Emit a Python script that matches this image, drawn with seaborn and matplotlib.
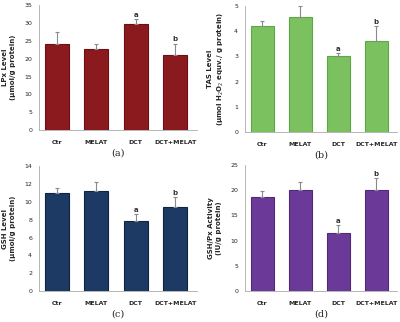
import matplotlib
matplotlib.use("Agg")
import matplotlib.pyplot as plt
import seaborn as sns
import pandas as pd

sns.set_style("white")
plt.rcParams['font.family'] = ['DejaVu Sans']

categories = ["Ctr", "MELAT", "DCT", "DCT+MELAT"]

lpx_values = [24.0, 22.6, 29.7, 21.0]
lpx_errors = [3.4, 1.4, 1.3, 3.2]
lpx_marks = ["", "", "a", "b"]

tas_values = [4.2, 4.58, 3.0, 3.62]
tas_errors = [0.22, 0.42, 0.12, 0.58]
tas_marks = ["", "", "a", "b"]

gsh_values = [11.0, 11.25, 7.9, 9.4]
gsh_errors = [0.6, 0.95, 0.7, 1.1]
gsh_marks = ["", "", "a", "b"]

gpx_values = [18.6, 20.0, 11.6, 20.0]
gpx_errors = [1.3, 1.6, 1.4, 2.3]
gpx_marks = ["", "", "a", "b"]

panels = [
    dict(vals=lpx_values, errs=lpx_errors, marks=lpx_marks, ymax=35, step=5,
         color="#8B1A1E", edge="#6A1014", ylabel="LPx Level\n(μmol/g protein)",
         tag="(a)", rect=[0.0975, 0.596, 0.395, 0.388]),
    dict(vals=tas_values, errs=tas_errors, marks=tas_marks, ymax=5, step=1,
         color="#7CC160", edge="#5EA844",
         ylabel="TAS Level\n(μmol H$_2$O$_2$ equv./ g protein)",
         tag="(b)", rect=[0.6125, 0.59, 0.38, 0.391]),
    dict(vals=gsh_values, errs=gsh_errors, marks=gsh_marks, ymax=14, step=2,
         color="#1C3A63", edge="#10243F", ylabel="GSH Level\n(μmol/g protein)",
         tag="(c)", rect=[0.0975, 0.096, 0.395, 0.388]),
    dict(vals=gpx_values, errs=gpx_errors, marks=gpx_marks, ymax=25, step=5,
         color="#6B3A99", edge="#52287A", ylabel="GSH/Px Activity\n(IU/g protein)",
         tag="(d)", rect=[0.6125, 0.096, 0.38, 0.392]),
]

fig = plt.figure(figsize=(4.0, 3.22), dpi=100)

for p in panels:
    ax = fig.add_axes(p["rect"])
    df = pd.DataFrame({"group": categories, "value": p["vals"]})
    sns.barplot(data=df, x="group", y="value", color=p["color"], ax=ax,
                width=0.6, edgecolor=p["edge"], linewidth=0.8, saturation=1)
    xs = list(range(len(categories)))
    ax.errorbar(xs, p["vals"], yerr=[[0] * 4, p["errs"]], fmt="none",
                ecolor="#8a8a8a", elinewidth=0.8, capsize=1.2, capthick=0.8)
    for x, v, e, m in zip(xs, p["vals"], p["errs"], p["marks"]):
        if m:
            ax.text(x, v + e + p["ymax"] * 0.012, m, ha="center", va="bottom",
                    fontsize=5, fontweight="bold", color="#333333")
    ax.set_ylim(0, p["ymax"])
    ax.set_xlim(-0.45, 3.55)
    ax.set_yticks([i * p["step"] for i in range(int(p["ymax"] / p["step"]) + 1)])
    ax.set_xticks([0.5, 1.5, 2.5], minor=True)
    ax.set_xlabel("")
    ax.set_ylabel(p["ylabel"], fontsize=5, fontweight="bold", labelpad=6,
                  linespacing=1.4)
    ax.tick_params(axis="y", labelsize=4.5, length=2, width=0.5,
                   color="#999999", pad=3)
    ax.tick_params(axis="x", which="major", labelsize=4.5, length=0, pad=7)
    ax.tick_params(axis="x", which="minor", length=2, width=0.5,
                   color="#999999", direction="out")
    for lab in ax.get_xticklabels():
        lab.set_fontweight("bold")
    for s in ["top", "right"]:
        ax.spines[s].set_visible(False)
    for s in ["left", "bottom"]:
        ax.spines[s].set_color("#aaaaaa")
        ax.spines[s].set_linewidth(0.6)
    ax.text(0.5, -0.15, p["tag"], transform=ax.transAxes, ha="center",
            va="top", fontsize=7, family="DejaVu Serif")

fig.savefig("out.png", dpi=100)
